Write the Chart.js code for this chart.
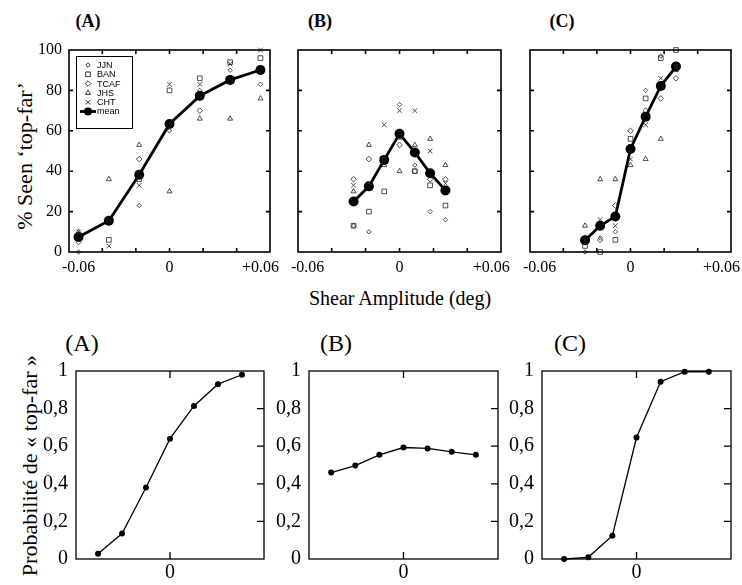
<!DOCTYPE html>
<html>
<head>
<meta charset="utf-8">
<script src="https://cdn.jsdelivr.net/npm/chart.js@4.4.0/dist/chart.umd.min.js"></script>
<style>
  body { margin: 0; width: 742px; height: 585px; position: relative; background: #fff; overflow: hidden; font-family: "Liberation Serif", "Times New Roman", serif; }
  canvas { position: absolute; }
  .lbl { position: absolute; white-space: nowrap; color: #000; line-height: 1; }
</style>
</head>
<body>
<div class="lbl" style="left:88px;top:21px;transform:translate(-50%,-50%);font-weight:bold;font-size:18px">(A)</div>
<div class="lbl" style="left:320px;top:21px;transform:translate(-50%,-50%);font-weight:bold;font-size:18px">(B)</div>
<div class="lbl" style="left:562px;top:21px;transform:translate(-50%,-50%);font-weight:bold;font-size:18px">(C)</div>
<div class="lbl" style="left:25px;top:156px;transform:translate(-50%,-50%) rotate(-90deg);font-size:22px">% Seen ‘top-far’</div>
<div class="lbl" style="left:400px;top:298px;transform:translate(-50%,-50%);font-size:20px">Shear Amplitude (deg)</div>
<div class="lbl" style="left:82px;top:343px;transform:translate(-50%,-50%);font-size:24px">(A)</div>
<div class="lbl" style="left:336px;top:343px;transform:translate(-50%,-50%);font-size:24px">(B)</div>
<div class="lbl" style="left:570px;top:343px;transform:translate(-50%,-50%);font-size:24px">(C)</div>
<div class="lbl" style="left:30px;top:355px;transform-origin:0 0;transform:rotate(-90deg) translate(-100%,-50%);font-size:22px">Probabilité de « top-far »</div>

<script>
// ---- data ----
const shearWide = [-0.06, -0.04, -0.02, 0, 0.02, 0.04, 0.06];
const shearNarrow = [-0.03, -0.02, -0.01, 0, 0.01, 0.02, 0.03];
const observers = ['JJN', 'BAN', 'TCAF', 'JHS', 'CHT'];

// top (A): % seen top-far
const aJJN  = [0, 15, 23, 60, 80, 90, 83];
const aBAN  = [8, 6, 36, 80, 86, 94, 96];
const aTCAF = [5, 16, 46, 63, 70, 84, 90];
const aJHS  = [10, 36, 53, 30, 66, 66, 76];
const aCHT  = [10, 3, 33, 83, 83, 93, 100];
const aMean = [7.4, 15.5, 38.2, 63.4, 77.3, 85.2, 90.1];

// top (B)
const bJJN  = [13, 10, 46, 73, 43, 20, 16];
const bBAN  = [13, 20, 30, 57, 40, 33, 23];
const bTCAF = [36, 46, 46, 53, 40, 36, 36];
const bJHS  = [30, 53, 43, 40, 53, 56, 43];
const bCHT  = [33, 34, 63, 70, 70, 50, 34];
const bMean = [25, 32.5, 45.6, 58.5, 49.3, 39, 30.5];

// top (C)
const cJJN  = [0, 7, 10, 50, 80, 97, 92];
const cBAN  = [3, 0, 6, 56, 76, 96, 100];
const cTCAF = [7, 6, 23, 60, 70, 76, 86];
const cJHS  = [13, 36, 36, 43, 46, 56, 90];
const cCHT  = [6, 16, 13, 46, 63, 86, 92];
const cMean = [5.8, 13, 17.6, 51, 67, 82.2, 91.8];

// bottom: probability of "top-far"
const probA = [0.028, 0.135, 0.38, 0.64, 0.814, 0.93, 0.98];
const probB = [0.46, 0.497, 0.554, 0.593, 0.588, 0.57, 0.554];
const probC = [0.0, 0.009, 0.124, 0.646, 0.943, 0.996, 0.996];

const shearTicks = [-0.06, 0, 0.06];
const shearMarks = [-0.0443, -0.0222, 0, 0.0222, 0.0443];
const percentTicks = [0, 20, 40, 60, 80, 100];
const probTicks = [0, 0.2, 0.4, 0.6, 0.8, 1];

// ---- styles ----
const serif = '"Liberation Serif", "Times New Roman", serif';
const markerStyle = ['rectRot', 'rect', 'rectRot', 'triangle', 'crossRot'];
const markerSize = [2.2, 3.3, 2.8, 2.9, 3.3];

// box + inward tick marks
function framePlugin(f) {
  return {
    id: 'frame',
    afterDraw(chart) {
      const ctx = chart.ctx, a = chart.chartArea;
      const x = chart.scales.x, y = chart.scales.y;
      ctx.save();
      ctx.strokeStyle = '#000';
      ctx.lineWidth = f.lineWidth;
      ctx.strokeRect(a.left, a.top, a.right - a.left, a.bottom - a.top);
      ctx.beginPath();
      f.xMarks.forEach(v => {
        const px = x.getPixelForValue(v);
        ctx.moveTo(px, a.top); ctx.lineTo(px, a.top + f.len);
        ctx.moveTo(px, a.bottom); ctx.lineTo(px, a.bottom - f.len);
      });
      f.yLeft.forEach(v => {
        const py = y.getPixelForValue(v);
        ctx.moveTo(a.left, py); ctx.lineTo(a.left + f.len, py);
      });
      f.yRight.forEach(v => {
        const py = y.getPixelForValue(v);
        ctx.moveTo(a.right, py); ctx.lineTo(a.right - f.len, py);
      });
      ctx.stroke();
      ctx.restore();
    }
  };
}

// small boxed legend in the corner of panel (A)
const boxLegend = {
  id: 'boxLegend',
  afterDraw(chart) {
    const { ctx, chartArea: a } = chart;
    const L = a.left + 7, T = a.top + 6;
    ctx.save();
    ctx.fillStyle = '#fff';
    ctx.fillRect(L, T, 56, 72);
    ctx.strokeStyle = '#000';
    ctx.lineWidth = 1;
    ctx.strokeRect(L + 0.5, T + 0.5, 56, 72);
    ctx.font = '9px "Liberation Sans", Arial, sans-serif';
    ctx.textBaseline = 'middle';
    chart.data.datasets.forEach((ds, i) => {
      const cy = T + 9 + i * 9.3;
      const mx = L + 12;
      ctx.strokeStyle = '#000';
      if (ds.type === 'line') {
        ctx.lineWidth = ds.borderWidth;
        ctx.beginPath(); ctx.moveTo(L + 4, cy); ctx.lineTo(L + 20, cy); ctx.stroke();
        ctx.fillStyle = '#000';
        ctx.beginPath(); ctx.arc(mx, cy, 4, 0, Math.PI * 2); ctx.fill();
      } else {
        ctx.lineWidth = ds.pointBorderWidth;
        ctx.fillStyle = 'rgba(0,0,0,0)';
        Chart.helpers.drawPoint(ctx, { pointStyle: ds.pointStyle, radius: ds.pointRadius, rotation: 0, borderWidth: ds.pointBorderWidth }, mx, cy);
      }
      ctx.fillStyle = '#000';
      ctx.fillText(ds.label, L + 21, cy + 0.5);
    });
    ctx.restore();
  }
};

function topSets(xs, series, mean) {
  const sets = observers.map((name, i) => ({
    type: 'scatter',
    label: name,
    data: xs.map((x, j) => ({ x, y: series[i][j] })),
    pointStyle: markerStyle[i],
    pointRadius: markerSize[i],
    pointBorderWidth: 0.8,
    pointBorderColor: '#222',
    pointBackgroundColor: 'rgba(0,0,0,0)',
    clip: false
  }));
  sets.push({
    type: 'line',
    label: 'mean',
    data: xs.map((x, j) => ({ x, y: mean[j] })),
    borderColor: '#000',
    borderWidth: 2.8,
    pointRadius: 5,
    pointBackgroundColor: '#000',
    pointBorderWidth: 0,
    clip: false
  });
  return sets;
}

function probSet(xs, vals) {
  return [{
    type: 'line',
    label: 'p',
    data: xs.map((x, j) => ({ x, y: vals[j] })),
    borderColor: '#000',
    borderWidth: 1.3,
    pointRadius: 3,
    pointBackgroundColor: '#000',
    pointBorderWidth: 0,
    clip: false
  }];
}

function makePanel(box, cfg) {
  const LW = 45, TP = 20, RP = 16, BH = 34;
  const w = box.r - box.l + LW + RP, h = box.b - box.t + TP + BH;
  const cv = document.createElement('canvas');
  cv.width = w; cv.height = h;
  cv.style.left = (box.l - LW) + 'px';
  cv.style.top = (box.t - TP) + 'px';
  cv.style.width = w + 'px';
  cv.style.height = h + 'px';
  document.body.appendChild(cv);
  const plugins = [framePlugin(cfg.frame)];
  if (cfg.legend) plugins.push(boxLegend);
  return new Chart(cv, {
    type: 'scatter',
    data: { datasets: cfg.datasets },
    plugins: plugins,
    options: {
      responsive: false,
      animation: false,
      layout: { padding: { top: TP, right: RP, left: 0, bottom: 0 } },
      plugins: { legend: { display: false }, tooltip: { enabled: false } },
      scales: {
        x: {
          type: 'linear', min: cfg.xMin, max: cfg.xMax,
          afterBuildTicks: s => { s.ticks = cfg.xTicks.map(v => ({ value: v })); },
          afterFit: s => { s.height = BH; },
          grid: { display: false, drawTicks: false }, border: { display: false },
          ticks: { color: '#000', font: { family: serif, size: cfg.font }, padding: cfg.xPad, maxRotation: 0, autoSkip: false, callback: cfg.xFmt }
        },
        y: {
          type: 'linear', min: cfg.yMin, max: cfg.yMax,
          afterBuildTicks: s => { s.ticks = cfg.yTicks.map(v => ({ value: v })); },
          afterFit: s => { s.width = LW; },
          grid: { display: false, drawTicks: false }, border: { display: false },
          ticks: { display: cfg.showY, color: '#000', font: { family: serif, size: cfg.font }, padding: cfg.yPad, autoSkip: false, callback: cfg.yFmt }
        }
      }
    }
  });
}

const fmtShear = v => v === 0 ? '0' : (v > 0 ? '+' : '') + v.toFixed(2);
const fmtProb = v => (v === 0 || v === 1) ? String(v) : v.toFixed(1).replace('.', ',');

const topFrame = { lineWidth: 1.6, len: 4, xMarks: shearMarks, yLeft: [20, 40, 60, 80], yRight: [20, 40, 60, 80] };
const topCommon = {
  xMin: -0.0663, xMax: 0.0663, yMin: 0, yMax: 100,
  xTicks: shearTicks, yTicks: percentTicks, font: 16, xPad: 6, yPad: 7,
  xFmt: fmtShear, yFmt: v => String(v), frame: topFrame
};

makePanel({ l: 69, t: 50, r: 270, b: 252 }, Object.assign({}, topCommon, {
  showY: true, legend: true,
  datasets: topSets(shearWide, [aJJN, aBAN, aTCAF, aJHS, aCHT], aMean)
}));
makePanel({ l: 298, t: 50, r: 501, b: 252 }, Object.assign({}, topCommon, {
  showY: false,
  datasets: topSets(shearNarrow, [bJJN, bBAN, bTCAF, bJHS, bCHT], bMean)
}));
makePanel({ l: 530, t: 50, r: 731, b: 252 }, Object.assign({}, topCommon, {
  showY: false,
  datasets: topSets(shearNarrow, [cJJN, cBAN, cTCAF, cJHS, cCHT], cMean)
}));

const botFrame = { lineWidth: 1.3, len: 7, xMarks: [0], yLeft: [], yRight: [0.2, 0.4, 0.6, 0.8] };
const botCommon = {
  xMin: -0.0392, xMax: 0.0392, yMin: 0, yMax: 1,
  xTicks: [0], yTicks: probTicks, font: 20, xPad: 2, yPad: 8,
  xFmt: v => '0', yFmt: fmtProb, frame: botFrame, showY: true
};
makePanel({ l: 76, t: 371, r: 264, b: 559 }, Object.assign({}, botCommon, { datasets: probSet(shearNarrow, probA) }));
makePanel({ l: 309, t: 371, r: 498, b: 559 }, Object.assign({}, botCommon, { datasets: probSet(shearNarrow, probB) }));
makePanel({ l: 542, t: 371, r: 731, b: 559 }, Object.assign({}, botCommon, { datasets: probSet(shearNarrow, probC) }));
</script>
</body>
</html>
